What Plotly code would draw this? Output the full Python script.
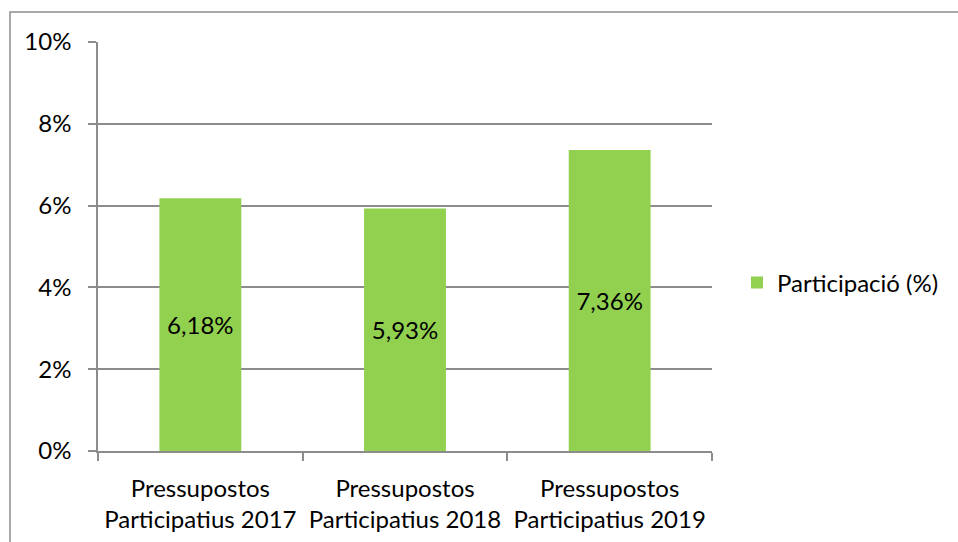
import plotly.graph_objects as go

categories = ["Pressupostos<br>Participatius 2017", "Pressupostos<br>Participatius 2018", "Pressupostos<br>Participatius 2019"]
values = [0.0618, 0.0593, 0.0736]
series_name = "Participació (%)"

FONT = "Lato, Carlito, Calibri, sans-serif"
GREEN = "#92D050"
GRAY = "#8C8C8C"
FS = 24

L, R, T, B = 98, 246, 42, 91
W, H = 958, 542
pw = W - L - R
ph = H - T - B

fig = go.Figure()
fig.add_trace(go.Bar(
    x=categories, y=values, name=series_name,
    marker=dict(color=GREEN, line=dict(width=0)),
    width=0.4,
    texttemplate="%{y:.2%}", textposition="inside", insidetextanchor="middle",
    textfont=dict(family=FONT, size=FS, color="black"),
    showlegend=True, hoverinfo="skip",
))

fig.update_layout(
    width=W, height=H,
    margin=dict(l=L, r=R, t=T, b=B, autoexpand=False),
    paper_bgcolor="white", plot_bgcolor="white",
    separators=",.",
    font=dict(family=FONT, size=FS, color="black"),
    showlegend=True,
    legend=dict(x=(737 - L) / pw, y=(451 - 283) / ph, xanchor="left", yanchor="middle",
                font=dict(family=FONT, size=FS, color="black"), bgcolor="rgba(0,0,0,0)",
                itemwidth=30),
    yaxis=dict(range=[0, 0.1], dtick=0.02, tickformat=".0%", showgrid=True, automargin=False,
               gridcolor=GRAY, gridwidth=1.5, showline=True, linecolor=GRAY, linewidth=1.5,
               ticks="outside", ticklen=8, tickcolor=GRAY, tickwidth=1.5, zeroline=False,
               ticklabelstandoff=12,
               tickfont=dict(family=FONT, size=FS, color="black")),
    xaxis=dict(showline=True, linecolor=GRAY, linewidth=1.5, ticks="outside", ticklen=8,
               automargin=False, ticklabelstandoff=15,
               tickcolor=GRAY, tickwidth=1.5, tickson="boundaries", showgrid=False,
               tickfont=dict(family=FONT, size=FS, color="black")),
    shapes=[dict(type="rect", xref="paper", yref="paper",
                 x0=(10 - L) / pw, x1=(W + 5 - L) / pw,
                 y0=-(H + 5 - (T + ph)) / ph, y1=(T + ph - 12) / ph,
                 line=dict(color=GRAY, width=1.5), layer="below")],
)

fig.write_html("out.html", config={"displayModeBar": False},
               post_script="document.body.style.margin='0';")
